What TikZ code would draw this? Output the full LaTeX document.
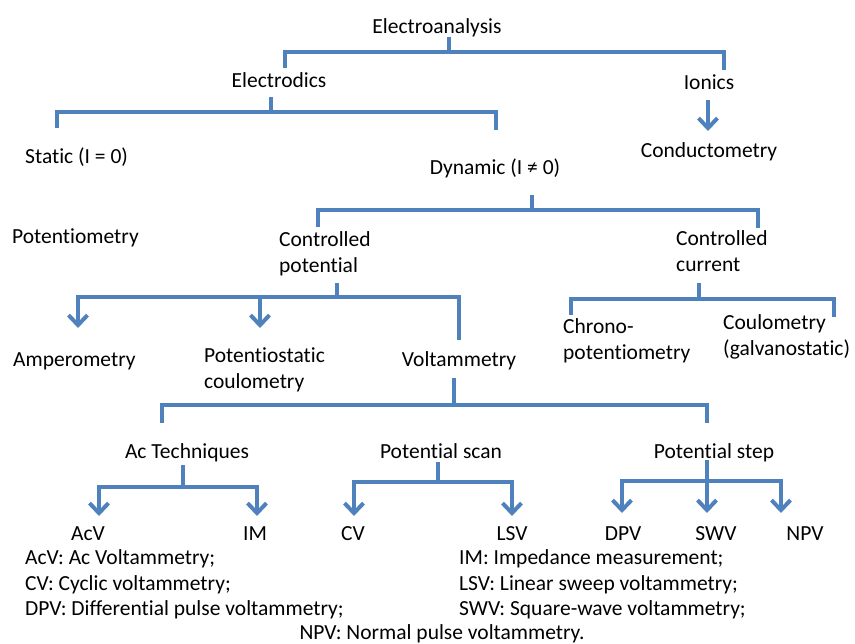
\documentclass[tikz,border=0pt]{standalone}
\usepackage{fontspec}
\setmainfont{Carlito}[Ligatures={NoCommon,NoRequired,NoContextual}]
\usetikzlibrary{arrows.meta}
\definecolor{linkblue}{RGB}{79,129,189}
\newcommand{\twoline}[2]{\begin{tabular}[t]{@{}l@{}}#1\\#2\end{tabular}}
\begin{document}
\begin{tikzpicture}[x=1pt,y=-1pt,
  lbl/.style={inner sep=0pt,anchor=base,font=\fontsize{21.5}{25.5}\selectfont},
  lblw/.style={lbl,anchor=base west},
  conn/.style={draw=linkblue,line width=3.3pt},
  arr/.style={conn,-{Straight Barb[length=10pt,width=19pt,line width=4pt]}}]
\useasboundingbox (0,0) rectangle (855,644);

% ---- labels ----
\node[lbl]  (ea)  at (437,34)  {Electroanalysis};
\node[lbl]  (ed)  at (279,88)  {Electrodics};
\node[lbl]  (io)  at (709,90)  {Ionics};
\node[lbl]  (co)  at (709,158) {Conductometry};
\node[lblw] (st)  at (25,164)  {Static (I = 0)};
\node[lbl]  (dy)  at (495,175) {Dynamic (I ≠ 0)};
\node[lblw] (pm)  at (12,244)  {Potentiometry};
\node[lblw] (cp)  at (279,247) {\twoline{Controlled}{potential}};
\node[lblw] (cc)  at (676,246) {\twoline{Controlled}{current}};
\node[lblw] (am)  at (13,367)  {Amperometry};
\node[lblw] (pc)  at (204,363) {\twoline{Potentiostatic}{coulometry}};
\node[lbl]  (vo)  at (459,367) {Voltammetry};
\node[lblw] (ch)  at (563,334) {\twoline{Chrono-}{potentiometry}};
\node[lblw] (cg)  at (723,330) {\twoline{Coulometry}{(galvanostatic)}};
\node[lbl]  (ac)  at (187,459) {Ac Techniques};
\node[lbl]  (ps)  at (441,459) {Potential scan};
\node[lbl]  (pst) at (714,459) {Potential step};
\node[lbl]  (acv) at (88,540)  {AcV};
\node[lbl]  (im)  at (255,540) {IM};
\node[lbl]  (cv)  at (353,540) {CV};
\node[lbl]  (lsv) at (512,540) {LSV};
\node[lbl]  (dpv) at (623,540) {DPV};
\node[lbl]  (swv) at (716,540) {SWV};
\node[lbl]  (npv) at (805,540) {NPV};

% ---- abbreviations ----
\node[lblw] (k1) at (25,564)  {AcV: Ac Voltammetry;};
\node[lblw] (k2) at (25,590)  {CV: Cyclic voltammetry;};
\node[lblw] (k3) at (25,615)  {DPV: Differential pulse voltammetry;};
\node[lblw] (k4) at (459,564) {IM: Impedance measurement;};
\node[lblw] (k5) at (459,590) {LSV: Linear sweep voltammetry;};
\node[lblw] (k6) at (459,615) {SWV: Square-wave voltammetry;};
\node[lbl]  (k7) at (442,639) {NPV: Normal pulse voltammetry.};

% ---- bracket junctions and ends ----
\coordinate (ea-s) at (449,37);  \coordinate (ea-j) at (449,52);
\coordinate (ed-t) at (285,68);  \coordinate (io-t) at (724,70);
\coordinate (ed-s) at (271,97);  \coordinate (ed-j) at (271,112);
\coordinate (st-t) at (57,128);  \coordinate (dy-t) at (496,130);
\coordinate (io-s) at (708,100); \coordinate (co-t) at (708,131);
\coordinate (dy-s) at (532,195); \coordinate (dy-j) at (532,210);
\coordinate (cp-t) at (318,227); \coordinate (cc-t) at (758,228);
\coordinate (cp-s) at (337,283); \coordinate (cp-j) at (337,297);
\coordinate (am-t) at (78,328);  \coordinate (pc-t) at (260,328);
\coordinate (pc-b) at (260,297); \coordinate (vo-t) at (459,340);
\coordinate (cc-s) at (699,283); \coordinate (cc-j) at (699,299);
\coordinate (ch-t) at (571,315); \coordinate (cg-t) at (834,317);
\coordinate (vo-s) at (454,378); \coordinate (vo-j) at (454,405);
\coordinate (ac-t) at (162,423); \coordinate (pst-t) at (707,423);
\coordinate (ac-s) at (183,465); \coordinate (ac-j) at (183,487);
\coordinate (acv-t) at (99,516); \coordinate (im-t) at (257,516);
\coordinate (ps-s) at (438,462); \coordinate (ps-j) at (438,482);
\coordinate (cv-t) at (354,516); \coordinate (lsv-t) at (512,516);
\coordinate (pst-s) at (707,460); \coordinate (pst-j) at (707,481);
\coordinate (dpv-t) at (622,513); \coordinate (swv-t) at (707,513);
\coordinate (npv-t) at (781,513);

% ---- connectors ----
\draw[conn] (ea-s) -- (ea-j);
\draw[conn] (ed-t) |- (ea-j) -| (io-t);
\draw[conn] (ed-s) -- (ed-j);
\draw[conn] (st-t) |- (ed-j) -| (dy-t);
\draw[arr]  (io-s) -- (co-t);
\draw[conn] (dy-s) -- (dy-j);
\draw[conn] (cp-t) |- (dy-j) -| (cc-t);
\draw[conn] (cp-s) -- (cp-j);
\draw[arr]  (cp-j) -| (am-t);
\draw[conn] (cp-j) -| (vo-t);
\draw[arr]  (pc-b) -- (pc-t);
\draw[conn] (cc-s) -- (cc-j);
\draw[conn] (ch-t) |- (cc-j) -| (cg-t);
\draw[conn] (vo-s) -- (vo-j);
\draw[conn] (ac-t) |- (vo-j) -| (pst-t);
\draw[conn] (ac-s) -- (ac-j);
\draw[arr]  (ac-j) -| (acv-t);
\draw[arr]  (ac-j) -| (im-t);
\draw[conn] (ps-s) -- (ps-j);
\draw[arr]  (ps-j) -| (cv-t);
\draw[arr]  (ps-j) -| (lsv-t);
\draw[arr]  (pst-s) -- (swv-t);
\draw[arr]  (pst-j) -| (dpv-t);
\draw[arr]  (pst-j) -| (npv-t);
\end{tikzpicture}
\end{document}
